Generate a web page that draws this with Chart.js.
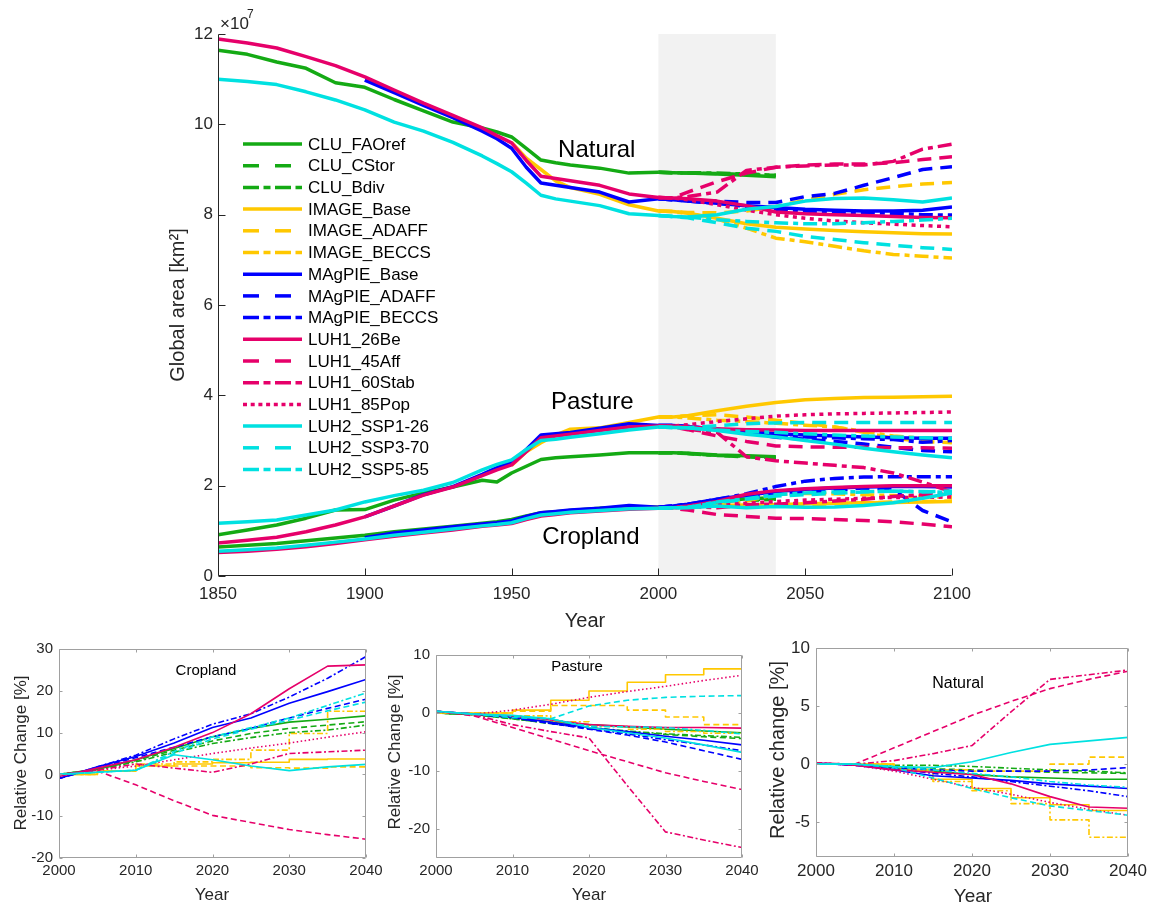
<!DOCTYPE html>
<html>
<head>
<meta charset="utf-8">
<script src="https://cdn.jsdelivr.net/npm/chart.js@4.4.0/dist/chart.umd.min.js"></script>
<style>
    body { margin: 0; background: #fff; width: 1151px; height: 907px; overflow: hidden; position: relative; }
    canvas { position: absolute; }
</style>
</head>
<body>
<canvas id="mainChart" width="1000" height="640" style="left:0px;top:0px"></canvas>
<canvas id="cropChart" width="400" height="277" style="left:0px;top:630px"></canvas>
<canvas id="pastChart" width="400" height="277" style="left:380px;top:630px"></canvas>
<canvas id="natChart" width="391" height="277" style="left:760px;top:630px"></canvas>
<script>
/* ------------------------------
   DATA
--------------------------------*/

const scenarios = ["CLU_FAOref", "CLU_CStor", "CLU_Bdiv", "IMAGE_Base", "IMAGE_ADAFF", "IMAGE_BECCS",
    "MAgPIE_Base", "MAgPIE_ADAFF", "MAgPIE_BECCS", "LUH1_26Be", "LUH1_45Aff", "LUH1_60Stab", "LUH1_85Pop",
    "LUH2_SSP1-26", "LUH2_SSP3-70", "LUH2_SSP5-85"];
const scenarioFamily = ["CLU", "CLU", "CLU", "IMAGE", "IMAGE", "IMAGE", "MAgPIE", "MAgPIE", "MAgPIE",
    "LUH1", "LUH1", "LUH1", "LUH1", "LUH2", "LUH2", "LUH2"];
const scenarioStyle = ["solid", "dashed", "dashdot", "solid", "dashed", "dashdot", "solid", "dashed", "dashdot",
    "solid", "dashed", "dashdot", "dotted", "solid", "dashed", "dashdot"];
const histFamilies = ["CLU", "IMAGE", "MAgPIE", "LUH1", "LUH2"];

// global area, x 1e7 km2
const histYears = [1850, 1860, 1870, 1880, 1890, 1900, 1910, 1920, 1930, 1940, 1945, 1950, 1955, 1960, 1965, 1970, 1980, 1990, 2000];
const natHist = [
    [11.64, 11.55, 11.38, 11.24, 10.92, 10.82, 10.55, 10.3, 10.05, 9.92, 9.83, 9.72, 9.47, 9.21, 9.15, 9.1, 9.03, 8.92, 8.94],
    [null, null, null, null, null, null, null, null, null, null, null, 9.6, 9.25, 9.0, 8.75, 8.6, 8.45, 8.22, 8.08],
    [null, null, null, null, null, 10.98, 10.7, 10.42, 10.15, 9.85, 9.68, 9.47, 9.05, 8.7, 8.65, 8.6, 8.5, 8.28, 8.35],
    [11.89, 11.8, 11.69, 11.5, 11.3, 11.05, 10.76, 10.47, 10.2, 9.92, 9.75, 9.59, 9.2, 8.85, 8.8, 8.75, 8.65, 8.46, 8.38],
    [11.0, 10.95, 10.88, 10.72, 10.54, 10.32, 10.05, 9.85, 9.6, 9.3, 9.13, 8.95, 8.7, 8.43, 8.35, 8.3, 8.2, 8.02, 7.98]
];
const pastHist = [
    [0.91, 1.02, 1.13, 1.28, 1.46, 1.47, 1.68, 1.84, 1.97, 2.12, 2.08, 2.28, 2.43, 2.58, 2.62, 2.64, 2.68, 2.73, 2.73],
    [null, null, null, null, null, null, null, null, null, null, null, 2.45, 2.75, 2.95, 3.12, 3.25, 3.28, 3.4, 3.52],
    [null, null, null, null, null, 1.31, 1.55, 1.8, 1.98, 2.25, 2.4, 2.52, 2.8, 3.12, 3.15, 3.18, 3.27, 3.37, 3.33],
    [0.73, 0.79, 0.86, 0.98, 1.13, 1.31, 1.55, 1.79, 1.97, 2.22, 2.35, 2.46, 2.75, 3.06, 3.1, 3.14, 3.22, 3.3, 3.32],
    [1.17, 1.2, 1.24, 1.35, 1.46, 1.64, 1.78, 1.9, 2.07, 2.35, 2.47, 2.57, 2.8, 3.0, 3.03, 3.07, 3.15, 3.23, 3.3]
];
const cropHist = [
    [0.64, 0.68, 0.72, 0.78, 0.84, 0.9, 0.98, 1.04, 1.1, 1.17, 1.2, 1.25, 1.33, 1.4, 1.42, 1.45, 1.5, 1.53, 1.52],
    [null, null, null, null, null, null, null, null, null, null, null, 1.2, 1.28, 1.35, 1.39, 1.42, 1.47, 1.5, 1.52],
    [null, null, null, null, null, 0.85, 0.95, 1.02, 1.09, 1.15, 1.18, 1.22, 1.32, 1.4, 1.43, 1.46, 1.5, 1.56, 1.52],
    [0.52, 0.55, 0.59, 0.65, 0.72, 0.8, 0.88, 0.95, 1.02, 1.1, 1.13, 1.16, 1.25, 1.33, 1.36, 1.4, 1.44, 1.48, 1.5],
    [0.55, 0.58, 0.62, 0.68, 0.75, 0.82, 0.9, 0.97, 1.04, 1.11, 1.14, 1.18, 1.27, 1.35, 1.38, 1.41, 1.45, 1.49, 1.5]
];

const futYears = [2000, 2005, 2010, 2020, 2030, 2040, 2050, 2060, 2070, 2080, 2090, 2100];
const natFut = [
    [8.94, 8.93, 8.92, 8.9, 8.87, 8.84],
    [8.94, 8.93, 8.92, 8.91, 8.89, 8.87],
    [8.94, 8.93, 8.93, 8.92, 8.9, 8.87],
    [8.08, 8.07, 8.03, 7.92, 7.8, 7.72, 7.68, 7.65, 7.62, 7.6, 7.58, 7.57],
    [8.08, 8.07, 8.05, 8.04, 8.08, 8.18, 8.32, 8.45, 8.55, 8.62, 8.68, 8.71],
    [8.08, 8.07, 8.03, 7.9, 7.7, 7.48, 7.4, 7.3, 7.2, 7.12, 7.08, 7.04],
    [8.35, 8.33, 8.3, 8.25, 8.2, 8.16, 8.12, 8.1, 8.08, 8.08, 8.1, 8.17],
    [8.35, 8.33, 8.31, 8.3, 8.27, 8.27, 8.4, 8.47, 8.65, 8.82, 9.0, 9.06],
    [8.35, 8.33, 8.3, 8.25, 8.18, 8.12, 8.08, 8.06, 8.05, 8.03, 8.0, 7.99],
    [8.38, 8.37, 8.35, 8.3, 8.2, 8.06, 8.02, 8.0, 7.98, 7.96, 7.94, 7.93],
    [8.38, 8.37, 8.5, 8.73, 8.92, 9.05, 9.1, 9.12, 9.12, 9.15, 9.22, 9.28],
    [8.38, 8.37, 8.4, 8.5, 8.98, 9.05, 9.08, 9.1, 9.1, 9.18, 9.45, 9.56],
    [8.38, 8.37, 8.33, 8.22, 8.1, 8.0, 7.92, 7.86, 7.82, 7.79, 7.76, 7.73],
    [7.98, 7.96, 7.95, 8.0, 8.12, 8.18, 8.3, 8.36, 8.37, 8.33, 8.28, 8.37],
    [7.98, 7.96, 7.93, 7.82, 7.7, 7.63, 7.52, 7.45, 7.38, 7.32, 7.27, 7.23],
    [7.98, 7.96, 7.95, 7.89, 7.85, 7.82, 7.8, 7.8, 7.82, 7.85, 7.88, 7.92]
];
const pastFut = [
    [2.73, 2.73, 2.72, 2.68, 2.66, 2.64],
    [2.73, 2.73, 2.71, 2.67, 2.64, 2.61],
    [2.73, 2.73, 2.71, 2.67, 2.65, 2.62],
    [3.52, 3.52, 3.55, 3.66, 3.76, 3.84, 3.9, 3.93, 3.95, 3.96, 3.97, 3.98],
    [3.52, 3.52, 3.55, 3.57, 3.52, 3.45, 3.38, 3.3, 3.18, 3.05, 2.98, 2.95],
    [3.52, 3.52, 3.5, 3.45, 3.42, 3.38, 3.34, 3.3, 3.2, 3.1, 3.05, 3.02],
    [3.33, 3.33, 3.31, 3.25, 3.2, 3.15, 3.12, 3.1, 3.08, 3.06, 3.05, 3.05],
    [3.33, 3.33, 3.31, 3.24, 3.17, 3.07, 3.03, 2.98, 2.92, 2.85, 2.78, 2.75],
    [3.33, 3.33, 3.31, 3.25, 3.17, 3.11, 3.08, 3.06, 3.04, 3.02, 2.96, 3.0],
    [3.32, 3.32, 3.3, 3.26, 3.24, 3.23, 3.22, 3.22, 3.22, 3.22, 3.22, 3.22],
    [3.32, 3.3, 3.24, 3.1, 2.98, 2.88, 2.86, 2.85, 2.85, 2.84, 2.84, 2.83],
    [3.32, 3.3, 3.25, 3.18, 2.64, 2.55, 2.5, 2.45, 2.4, 2.28, 2.08, 1.86],
    [3.32, 3.32, 3.35, 3.42, 3.48, 3.54, 3.57, 3.59, 3.6, 3.61, 3.62, 3.63],
    [3.3, 3.29, 3.28, 3.22, 3.14, 3.08, 3.0, 2.92, 2.83, 2.75, 2.68, 2.62],
    [3.3, 3.29, 3.28, 3.33, 3.37, 3.39, 3.4, 3.4, 3.4, 3.4, 3.4, 3.4],
    [3.3, 3.29, 3.28, 3.23, 3.2, 3.18, 3.15, 3.12, 3.1, 3.08, 3.06, 3.05]
];
const cropFut = [
    [1.52, 1.53, 1.57, 1.65, 1.71, 1.73],
    [1.52, 1.53, 1.57, 1.64, 1.69, 1.71],
    [1.52, 1.53, 1.57, 1.63, 1.67, 1.7],
    [1.52, 1.53, 1.55, 1.56, 1.57, 1.58, 1.6, 1.61, 1.62, 1.63, 1.64, 1.65],
    [1.52, 1.53, 1.55, 1.55, 1.54, 1.55, 1.57, 1.6, 1.62, 1.64, 1.65, 1.66],
    [1.52, 1.53, 1.55, 1.57, 1.66, 1.81, 1.83, 1.82, 1.8, 1.78, 1.76, 1.74],
    [1.52, 1.55, 1.59, 1.7, 1.79, 1.87, 1.92, 1.95, 1.97, 1.98, 1.98, 1.97],
    [1.52, 1.55, 1.58, 1.66, 1.73, 1.8, 1.85, 1.9, 1.95, 1.92, 1.45, 1.2],
    [1.52, 1.55, 1.59, 1.7, 1.82, 1.98, 2.1, 2.16, 2.19, 2.2, 2.2, 2.2],
    [1.5, 1.51, 1.55, 1.65, 1.81, 1.89, 1.93, 1.96, 1.98, 2.0, 2.0, 2.0],
    [1.5, 1.5, 1.46, 1.36, 1.32, 1.28, 1.27, 1.25, 1.23, 1.2, 1.15, 1.09],
    [1.5, 1.52, 1.54, 1.51, 1.58, 1.59, 1.62, 1.66, 1.7, 1.76, 1.8, 1.82],
    [1.5, 1.51, 1.53, 1.58, 1.61, 1.65, 1.68, 1.7, 1.72, 1.74, 1.74, 1.75],
    [1.5, 1.51, 1.51, 1.55, 1.51, 1.54, 1.52, 1.53, 1.56, 1.62, 1.72, 1.84],
    [1.5, 1.51, 1.52, 1.63, 1.7, 1.77, 1.8, 1.83, 1.86, 1.88, 1.86, 1.88],
    [1.5, 1.51, 1.52, 1.64, 1.71, 1.8, 1.84, 1.86, 1.87, 1.88, 1.87, 1.85]
];

// relative change 2000-2040, %
const relYears = [2000, 2005, 2010, 2015, 2020, 2025, 2030, 2035, 2040];
const cropRel = [
    [0, 1.2, 3.5, 6.2, 9, 11, 12.5, 13.2, 14],
    [0, 1.2, 3.3, 5.8, 8, 9.8, 11, 11.8, 12.6],
    [0, 1.1, 3, 5.3, 7.4, 8.8, 10, 10.6, 11.8],
    [0, 0.8, 2, 2.5, 2.8, 2.9, 3.6, 3.7, 4.1],
    [0, 0.8, 2.2, 2, 2, 1.6, 1.5, 1.8, 2],
    [0, 0.8, 2.5, 3, 3.6, 5.8, 9.8, 15.1, 19.5],
    [-1, 1.8, 4.3, 7.5, 11.2, 13.5, 17, 19.8, 22.7],
    [-1, 1.6, 4, 6.5, 9, 11, 13.5, 15.8, 18],
    [-1, 1.8, 4.6, 8.5, 12, 14.5, 18.5, 23, 28.2],
    [-0.5, 1.5, 3.5, 6.5, 10, 14.5, 20.5, 25.9, 26.2],
    [0, 0.8, -2.5, -6.3, -9.8, -11.5, -13.2, -14.4, -15.5],
    [0, 1, 2.5, 1.5, 0.5, 2.5, 5, 5.4, 5.8],
    [0, 1, 2, 3.5, 5, 6.3, 7.5, 8.9, 10.2],
    [0, 0.5, 1, 4.7, 3.5, 2, 0.9, 1.8, 2.4],
    [0, 0.5, 1, 5, 8.5, 10.8, 13, 15.2, 17.3],
    [0, 0.5, 1, 5.5, 9, 11.2, 13.5, 16.5, 19.5]
];
const pastRel = [
    [0, -0.3, -0.8, -1.5, -2, -2.4, -2.8, -3.1, -3.4],
    [0, -0.3, -1, -1.8, -2.6, -3.2, -3.7, -4.1, -4.4],
    [0, -0.3, -1, -1.8, -2.5, -3.1, -3.6, -3.9, -4.2],
    [0, 0, 0.5, 2.2, 3.8, 5.3, 6.6, 7.6, 8.5],
    [0, 0, 0.3, 1.3, 1.3, 0.5, -0.7, -2, -2],
    [0, 0, -0.5, -1.5, -2.3, -2.8, -3.2, -3.5, -3.8],
    [0.3, -0.2, -0.7, -1.6, -2.5, -3.2, -4, -4.7, -5.5],
    [0.3, -0.2, -0.8, -1.8, -2.8, -3.8, -5, -6.5, -8],
    [0.3, -0.2, -0.8, -1.8, -2.7, -3.6, -4.6, -5.5, -6.5],
    [0.3, -0.2, -0.5, -1.2, -2, -2.3, -2.5, -2.5, -2.6],
    [0.3, -0.5, -2.5, -4.5, -6.5, -8.4, -10.3, -11.8, -13.2],
    [0.3, -0.3, -2, -3.2, -4.3, -12.5, -20.5, -21.9, -23.2],
    [0.3, -0.2, 0.5, 1.5, 2.7, 3.7, 4.6, 5.6, 6.5],
    [0.3, -0.2, -0.4, -1, -2.5, -3.4, -4.3, -5.5, -6.8],
    [0.3, -0.2, -0.8, -1, 1.2, 2.2, 2.7, 2.9, 3],
    [0.3, -0.2, -0.6, -1, -2.3, -2.4, -2.5, -3, -3.6]
];
const natRel = [
    [0, 0, -0.3, -0.6, -0.9, -1.1, -1.2, -1.3, -1.3],
    [0, 0, -0.2, -0.4, -0.5, -0.6, -0.7, -0.75, -0.8],
    [0, 0, -0.1, -0.1, -0.2, -0.35, -0.5, -0.6, -0.75],
    [0, 0, -0.5, -1.3, -2.1, -2.9, -3.5, -4, -4.5],
    [0, 0, -0.3, -0.5, -0.6, -0.6, 0, 0.6, 1.2],
    [0, 0, -0.5, -1.5, -2.3, -3.4, -4.8, -6.3, -7.5],
    [0.1, -0.1, -0.5, -1, -1.2, -1.4, -1.7, -1.9, -2.1],
    [0.1, -0.1, -0.3, -0.5, -0.6, -0.6, -0.6, -0.5, -0.3],
    [0.1, -0.1, -0.4, -0.8, -1.1, -1.5, -1.9, -2.3, -2.8],
    [0.1, -0.1, -0.5, -0.7, -0.9, -1.7, -2.8, -3.7, -3.8],
    [0.1, 0, 1.4, 2.8, 4.2, 5.4, 6.5, 7.3, 8],
    [0.1, 0, 0.3, 0.9, 1.6, 4.5, 7.3, 7.7, 8.1],
    [0.1, -0.1, -0.6, -1.3, -2, -2.6, -3.3, -3.9, -4.4],
    [0, 0, -0.2, -0.3, 0.2, 1, 1.7, 2, 2.3],
    [0, 0, -0.3, -1.2, -2.1, -2.9, -3.6, -4, -4.4],
    [0, 0, -0.2, -0.5, -0.8, -1.1, -1.5, -1.8, -2]
];

// tick values
const mainXTicks = [1850, 1900, 1950, 2000, 2050, 2100];
const mainYTicks = [0, 2, 4, 6, 8, 10, 12];
const relXTicks = [2000, 2010, 2020, 2030, 2040];
const cropYTicks = [-20, -10, 0, 10, 20, 30];
const pastYTicks = [-20, -10, 0, 10];
const natYTicks = [-5, 0, 5, 10];

/* ------------------------------
   STYLES
--------------------------------*/

const familyColor = { CLU: "#14AA14", IMAGE: "#FFC800", MAgPIE: "#0000FF", LUH1: "#E6006A", LUH2: "#00E1E1" };
const mainDash = { solid: [], dashed: [14, 8], dashdot: [14, 5, 5, 5], dotted: [4, 4.5] };
const legendDash = { solid: [], dashed: [16, 16], dashdot: [16, 4.5, 7, 4.5], dotted: [4, 3.7] };
const smallDash = { solid: [], dashed: [6, 3.5], dashdot: [6, 2.5, 2, 2.5], dotted: [1.5, 2.5] };

Chart.defaults.font.family = '"Liberation Sans", Arial, Helvetica, sans-serif';
Chart.defaults.color = "#262626";
Chart.defaults.animation = false;

function xy(xs, ys) {
    return ys.map((v, i) => ({ x: xs[i], y: v }));
}

function lineSet(points, color, style, width, dashes, stepped) {
    return {
        data: points,
        borderColor: color,
        borderWidth: width,
        borderDash: dashes[style],
        borderCapStyle: "butt",
        borderJoinStyle: "round",
        pointRadius: 0,
        tension: 0,
        fill: false,
        spanGaps: false,
        stepped: stepped || false
    };
}

/* ------------------------------
   PLUGINS (frame, ticks, texts)
--------------------------------*/

function framePlugin(cfg) {
    return {
        id: "frame",
        beforeDatasetsDraw(chart) {
            if (!cfg.shade) return;
            const { ctx, chartArea: a, scales: { x } } = chart;
            const x0 = x.getPixelForValue(cfg.shade[0]);
            const x1 = x.getPixelForValue(cfg.shade[1]);
            ctx.save();
            ctx.fillStyle = "#F2F2F2";
            ctx.fillRect(x0, a.top, x1 - x0, a.bottom - a.top);
            ctx.restore();
        },
        afterDatasetsDraw(chart) {
            const { ctx, chartArea: a, scales: { x, y } } = chart;
            const L = cfg.tickLen;
            const l = Math.round(a.left) + 0.5, r = Math.round(a.right) - 0.5;
            const t = Math.round(a.top) + 0.5, b = Math.round(a.bottom) - 0.5;
            ctx.save();
            ctx.strokeStyle = cfg.color;
            ctx.lineWidth = 1;
            ctx.beginPath();
            ctx.moveTo(l, t);
            ctx.lineTo(l, b);
            ctx.lineTo(r, b);
            if (cfg.box) {
                ctx.lineTo(r, t);
                ctx.lineTo(l, t);
            }
            x.ticks.forEach(tk => {
                const px = Math.round(x.getPixelForValue(tk.value)) + 0.5;
                ctx.moveTo(px, b); ctx.lineTo(px, b - L);
                if (cfg.box) { ctx.moveTo(px, t); ctx.lineTo(px, t + L); }
            });
            y.ticks.forEach(tk => {
                const py = Math.round(y.getPixelForValue(tk.value)) + 0.5;
                ctx.moveTo(l, py); ctx.lineTo(l + L, py);
                if (cfg.box) { ctx.moveTo(r, py); ctx.lineTo(r - L, py); }
            });
            ctx.stroke();
            ctx.restore();
        }
    };
}

function textPlugin(items) {
    return {
        id: "texts",
        afterDraw(chart) {
            const ctx = chart.ctx;
            items.forEach(it => {
                let px = it.x, py = it.y;
                if (it.data) {
                    px = chart.scales.x.getPixelForValue(it.x);
                    py = chart.scales.y.getPixelForValue(it.y);
                }
                ctx.save();
                ctx.font = it.font + ' "Liberation Sans", Arial, sans-serif';
                ctx.fillStyle = it.color || "#262626";
                ctx.textAlign = it.align || "center";
                ctx.textBaseline = "middle";
                ctx.translate(px, py);
                if (it.rotate) ctx.rotate(-Math.PI / 2);
                ctx.fillText(it.text, 0, 0);
                ctx.restore();
            });
        }
    };
}

const legendPlugin = {
    id: "scenarioLegend",
    afterDraw(chart) {
        const ctx = chart.ctx;
        scenarios.forEach((name, i) => {
            const y = 144 + i * 21.7;
            ctx.save();
            ctx.strokeStyle = familyColor[scenarioFamily[i]];
            ctx.lineWidth = 3.5;
            ctx.lineCap = "butt";
            ctx.setLineDash(legendDash[scenarioStyle[i]]);
            ctx.beginPath();
            ctx.moveTo(243, y);
            ctx.lineTo(302, y);
            ctx.stroke();
            ctx.setLineDash([]);
            ctx.fillStyle = "#000";
            ctx.font = '17px "Liberation Sans", Arial, sans-serif';
            ctx.textBaseline = "middle";
            ctx.textAlign = "left";
            ctx.fillText(name, 308, y + 1);
            ctx.restore();
        });
    }
};

/* ------------------------------
   SCALE HELPER
--------------------------------*/

function scaleOpts(min, max, tickValues, fontSize, pad, fitSize, horizontal) {
    return {
        type: "linear",
        min: min,
        max: max,
        grid: { display: false, drawTicks: false },
        border: { display: false },
        afterBuildTicks: s => { s.ticks = tickValues.map(v => ({ value: v })); },
        afterFit: s => { if (horizontal) s.height = fitSize; else s.width = fitSize; },
        ticks: {
            font: { size: fontSize },
            color: "#262626",
            padding: pad,
            autoSkip: false,
            maxRotation: 0,
            callback: v => String(v)
        }
    };
}

/* ------------------------------
   MAIN CHART (GLOBAL AREA)
--------------------------------*/

let mainSets = [];
histFamilies.forEach((f, i) => {
    [natHist, pastHist, cropHist].forEach(arr => {
        mainSets.push(lineSet(xy(histYears, arr[i]), familyColor[f], "solid", 3.5, mainDash));
    });
});
scenarios.forEach((s, i) => {
    [natFut, pastFut, cropFut].forEach(arr => {
        mainSets.push(lineSet(xy(futYears, arr[i]), familyColor[scenarioFamily[i]], scenarioStyle[i], 3.5, mainDash));
    });
});
mainSets.forEach((d, k) => d.order = -k);

new Chart(document.getElementById("mainChart"), {
    type: "line",
    data: { datasets: mainSets },
    options: {
        responsive: false,
        layout: { padding: { left: 158, right: 48, top: 34, bottom: 24 } },
        plugins: { legend: { display: false }, tooltip: { enabled: false } },
        scales: {
            x: scaleOpts(1850, 2100, mainXTicks, 17, 8, 40, true),
            y: scaleOpts(0, 12, mainYTicks, 17, 5, 60, false)
        }
    },
    plugins: [
        framePlugin({ shade: [2000, 2040], tickLen: 7, color: "#262626", box: false }),
        legendPlugin,
        textPlugin([
            { text: "\u00d710", x: 220, y: 24, align: "left", font: "17px" },
            { text: "7", x: 247, y: 15, align: "left", font: "12px" },
            { text: "Global area [km\u00b2]", x: 178, y: 305, rotate: true, font: "20px" },
            { text: "Year", x: 585, y: 621, font: "20px" },
            { text: "Natural", x: 1979, y: 9.43, data: true, font: "24px", color: "#000" },
            { text: "Pasture", x: 1977.5, y: 3.85, data: true, font: "24px", color: "#000" },
            { text: "Cropland", x: 1977, y: 0.86, data: true, font: "24px", color: "#000" }
        ])
    ]
});

/* ------------------------------
   RELATIVE CHANGE PANELS
--------------------------------*/

function relChart(id, values, yMin, yMax, yTicks, fontSize, padding, texts) {
    let sets = scenarios.map((s, i) => {
        const stepped = scenarioFamily[i] === "IMAGE" ? "before" : false;
        return lineSet(xy(relYears, values[i]), familyColor[scenarioFamily[i]], scenarioStyle[i], 1.6, smallDash, stepped);
    });
    sets.forEach((d, k) => d.order = -k);
    new Chart(document.getElementById(id), {
        type: "line",
        data: { datasets: sets },
        options: {
            responsive: false,
            layout: { padding: padding },
            plugins: { legend: { display: false }, tooltip: { enabled: false } },
            scales: {
                x: scaleOpts(2000, 2040, relXTicks, fontSize, 4, 30, true),
                y: scaleOpts(yMin, yMax, yTicks, fontSize, 6, 50, false)
            }
        },
        plugins: [framePlugin({ tickLen: 3, color: "#A0A0A0", box: true }), textPlugin(texts)]
    });
}

relChart("cropChart", cropRel, -20, 30, cropYTicks, 15, { left: 9, right: 34, top: 19, bottom: 19 }, [
    { text: "Cropland", x: 206, y: 41, font: "15px", color: "#000" },
    { text: "Relative Change [%]", x: 21, y: 123, rotate: true, font: "17px" },
    { text: "Year", x: 212, y: 265, font: "17px" }
]);

relChart("pastChart", pastRel, -25, 10, pastYTicks, 15, { left: 6, right: 38, top: 25, bottom: 19 }, [
    { text: "Pasture", x: 197, y: 37, font: "15px", color: "#000" },
    { text: "Relative Change [%]", x: 15, y: 122, rotate: true, font: "17px" },
    { text: "Year", x: 209, y: 265, font: "17px" }
]);

relChart("natChart", natRel, -8, 10, natYTicks, 17, { left: 6, right: 23, top: 18, bottom: 20 }, [
    { text: "Natural", x: 198, y: 54, font: "16px", color: "#000" },
    { text: "Relative change [%]", x: 18, y: 120, rotate: true, font: "20px" },
    { text: "Year", x: 213, y: 267, font: "19px" }
]);
</script>
</body>
</html>
